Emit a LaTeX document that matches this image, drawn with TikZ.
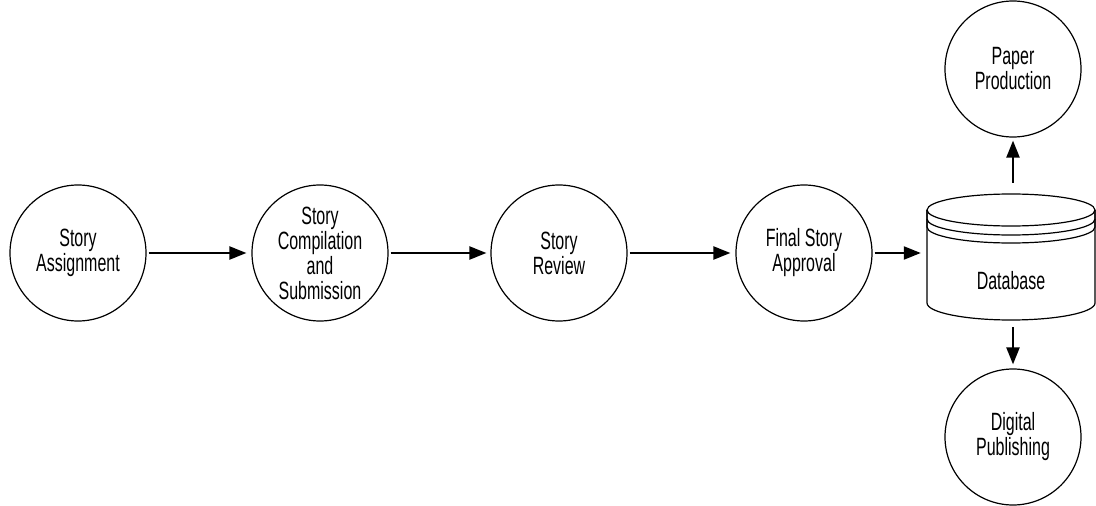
\documentclass[tikz,border=0pt]{standalone}
\usepackage{fontspec}
\setmainfont{Liberation Sans}[FakeStretch=0.64]
\usetikzlibrary{arrows.meta}
\tikzset{
  proc/.style={circle, draw, line width=1.2pt, minimum size=136pt, inner sep=0pt, align=center,
    font=\fontsize{25}{25}\selectfont},
  arr/.style={line width=2.2pt, -{Triangle[length=17pt,width=13pt]}},
  dbline/.style={line width=1.2pt},
}
\begin{document}
\begin{tikzpicture}[x=1pt,y=-1pt]
\useasboundingbox (0,0) rectangle (1096,506);
\node[proc] (sa) at (78,253) {Story\\Assignment};
\node[proc] (sc) at (320,253) {Story\\Compilation\\and\\Submission};
\node[proc] (sr) at (559,253) {Story\\Review};
\node[proc] (fa) at (804,253) {Final Story\\Approval};
\node[proc] (pp) at (1013,69) {Paper\\Production};
\node[proc] (dp) at (1013,437) {Digital\\Publishing};
% database
\node[minimum width=168pt, minimum height=126pt, inner sep=0pt] (db) at (1011,257) {};
\draw[dbline] (927,210) -- (927,303) arc[start angle=180,end angle=360,x radius=84pt,y radius=17pt] -- (1095,210);
\draw[dbline] (1011,210) ellipse[x radius=84pt, y radius=16pt];
\draw[dbline] (927,210) -- (927,219) arc[start angle=180,end angle=360,x radius=84pt,y radius=16pt] -- (1095,210);
\draw[dbline] (927,219) -- (927,227) arc[start angle=180,end angle=360,x radius=84pt,y radius=16pt] -- (1095,219);
\node[font=\fontsize{25}{25}\selectfont] (dbl) at (1011,281) {Database};
% connectors
\draw[arr, shorten <=2pt, shorten >=5pt] (sa) -- (sc);
\draw[arr, shorten <=2pt, shorten >=4pt] (sc) -- (sr);
\draw[arr, shorten <=2pt, shorten >=5pt] (sr) -- (fa);
\draw[arr, shorten <=2pt, shorten >=6pt] (fa.east) -- (fa.east -| db.west);
\draw[arr, shorten <=11pt, shorten >=3pt] (db.north -| pp.south) -- (pp.south);
\draw[arr, shorten <=7pt, shorten >=4pt] (db.south -| dp.north) -- (dp.north);
\end{tikzpicture}
\end{document}
